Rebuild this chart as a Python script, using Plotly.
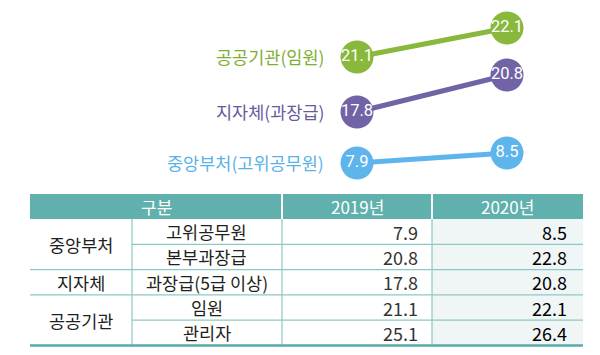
import plotly.graph_objects as go

# ---------------- data ----------------
years = ["2019", "2020"]
series_names = ["공공기관(임원)", "지자체(과장급)", "중앙부처(고위공무원)"]
green_vals = [21.1, 22.1]
purple_vals = [17.8, 20.8]
blue_vals = [7.9, 8.5]

header = ["구분", "2019년", "2020년"]
groups = ["중앙부처", "지자체", "공공기관"]
group_spans = [2, 1, 2]
subcats = ["고위공무원", "본부과장급", "과장급(5급 이상)", "임원", "관리자"]
vals2019 = [7.9, 20.8, 17.8, 21.1, 25.1]
vals2020 = [8.5, 22.8, 20.8, 22.1, 26.4]

# ---------------- style ----------------
W, H = 600, 355
KR = "Noto Sans CJK KR, Noto Sans, sans-serif"
NUM = "Roboto, Liberation Sans, sans-serif"
circle_cols = ["#88B83C", "#7163A5", "#5EB5EC"]
label_cols = ["#7DB02F", "#6A5A9C", "#5AB2E8"]
TEAL = "#60B0AE"
LINE = "#8CC8C5"
TXT = "#231F20"


def X(px):
    return px / W


def Y(py):
    return 1 - py / H


fig = go.Figure()
series_vals = [green_vals, purple_vals, blue_vals]
yaxes = ["y", "y2", "y3"]
for name, vals, col, ya in zip(series_names, series_vals, circle_cols, yaxes):
    fig.add_trace(go.Scatter(
        x=years, y=vals, yaxis=ya, name=name,
        mode="lines+markers+text",
        line=dict(color=col, width=5),
        marker=dict(size=33, color=col, line=dict(width=0)),
        text=[f"{v:.1f}" for v in vals],
        textposition="middle center",
        textfont=dict(color="white", size=16.5, family=NUM),
        hoverinfo="skip", showlegend=False, cliponaxis=False,
    ))

annotations = []
for name, vals, col, ya in zip(series_names, series_vals, label_cols, yaxes):
    annotations.append(dict(
        x=X(326), xref="paper", y=vals[0], yref=ya,
        text=name, showarrow=False, xanchor="right", yanchor="middle",
        font=dict(color=col, size=17.5, family=KR)))

# ---------------- table ----------------
left, c1, c2, c3, right = 30, 132, 282, 432, 583
h_top, h_bot = 194, 219
row_h = 25.3
n = len(subcats)
rows = [h_bot + i * row_h for i in range(n + 1)]

shapes = []
shapes.append(dict(type="rect", xref="paper", yref="paper",
                   x0=X(c3), x1=X(right), y0=Y(rows[-1]), y1=Y(h_bot),
                   fillcolor="#F0F6F6", line=dict(width=0), layer="below"))
for x0, x1 in [(left, c2 - 1), (c2 + 1, c3 - 1), (c3 + 1, right)]:
    shapes.append(dict(type="rect", xref="paper", yref="paper",
                       x0=X(x0), x1=X(x1), y0=Y(h_bot), y1=Y(h_top),
                       fillcolor=TEAL, line=dict(width=0), layer="below"))
starts = []
for span in group_spans:
    for j in range(span):
        starts.append(left if j == 0 else c1)
for i in range(1, n):
    shapes.append(dict(type="line", xref="paper", yref="paper",
                       x0=X(starts[i]), x1=X(right), y0=Y(rows[i]), y1=Y(rows[i]),
                       line=dict(color=LINE, width=1.2)))
for xv in [c1, c2, c3]:
    shapes.append(dict(type="line", xref="paper", yref="paper",
                       x0=X(xv), x1=X(xv), y0=Y(h_bot), y1=Y(rows[-1]),
                       line=dict(color=LINE, width=1.2)))
shapes.append(dict(type="line", xref="paper", yref="paper",
                   x0=X(left), x1=X(right), y0=Y(rows[-1]), y1=Y(rows[-1]),
                   line=dict(color="#5AAAA8", width=2.5)))

for txt, (x0, x1) in zip(header, [(left, c2), (c2, c3), (c3, right)]):
    annotations.append(dict(x=X((x0 + x1) / 2), y=Y((h_top + h_bot) / 2),
                            xref="paper", yref="paper", text=txt, showarrow=False,
                            xanchor="center", yanchor="middle",
                            font=dict(color="white", size=17, family=KR)))
idx = 0
for g, span in zip(groups, group_spans):
    yc = (rows[idx] + rows[idx + span]) / 2
    annotations.append(dict(x=X((left + c1) / 2), y=Y(yc), xref="paper", yref="paper",
                            text=g, showarrow=False, xanchor="center", yanchor="middle",
                            font=dict(color=TXT, size=17.5, family=KR)))
    idx += span
for i in range(n):
    yc = Y((rows[i] + rows[i + 1]) / 2)
    annotations.append(dict(x=X((c1 + c2) / 2), y=yc, xref="paper", yref="paper",
                            text=subcats[i], showarrow=False, xanchor="center", yanchor="middle",
                            font=dict(color=TXT, size=17.5, family=KR)))
    annotations.append(dict(x=X(420), y=yc, xref="paper", yref="paper",
                            text=f"{vals2019[i]:.1f}", showarrow=False, xanchor="right",
                            yanchor="middle", font=dict(color="#333333", size=18, family=KR)))
    annotations.append(dict(x=X(569), y=yc, xref="paper", yref="paper",
                            text=f"{vals2020[i]:.1f}", showarrow=False, xanchor="right",
                            yanchor="middle",
                            font=dict(color="#000000", size=18, family=KR)))

hidden = dict(visible=False, showgrid=False, zeroline=False, fixedrange=True)
fig.update_layout(
    width=W, height=H,
    margin=dict(l=0, r=0, t=0, b=0),
    paper_bgcolor="white", plot_bgcolor="white",
    xaxis=dict(range=[-2.38, 1.62], **hidden),
    yaxis=dict(range=[10.825, 23.065], domain=[0, 1], **hidden),
    yaxis2=dict(range=[-1.91, 26.88], overlaying="y", **hidden),
    yaxis3=dict(range=[-3.61, 17.67], overlaying="y", **hidden),
    shapes=shapes, annotations=annotations,
)

fig.write_html("out.html", config={"displayModeBar": False},
               post_script="document.body.style.margin='0';document.body.style.overflow='hidden';")
